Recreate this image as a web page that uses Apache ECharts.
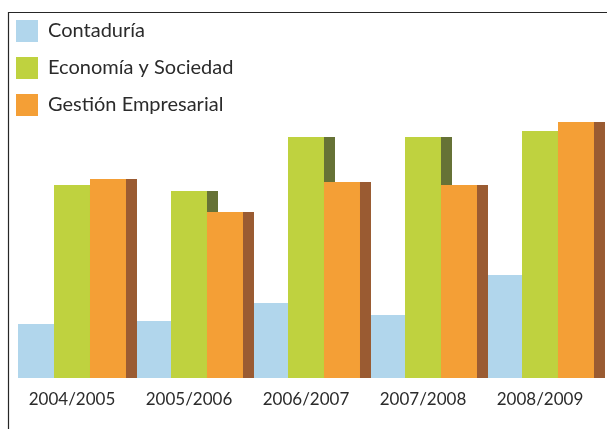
<!DOCTYPE html>
<html>
<head>
<meta charset="utf-8">
<script src="https://cdn.jsdelivr.net/npm/echarts@6/dist/echarts.min.js"></script>
<style>
  html, body { margin: 0; padding: 0; background: #ffffff; }
  #chart { width: 607px; height: 429px; }
</style>
</head>
<body>
<div id="chart"></div>
<script>
// Academic years on the category axis
const years = ['2004/2005', '2005/2006', '2006/2007', '2007/2008', '2008/2009'];

// Series names
const seriesNames = ['Contaduría', 'Economía y Sociedad', 'Gestión Empresarial'];

// Values per programme and year
const contaduria = [54, 57, 75, 63, 103];
const economia = [193, 187, 241, 241, 247];
const gestion = [199, 166, 196, 193, 256];

const faces = ['#b1d6ec', '#bfd23f', '#f49f36'];
const sides = ['#5d86a0', '#667236', '#9a5b32'];

const chart = echarts.init(document.getElementById('chart'), null, { renderer: 'canvas' });

// Each bar casts a flat, offset shadow on its right that reads as a side face
function barSeries(name, data, i) {
  return {
    name: name,
    type: 'bar',
    data: data,
    barGap: '0%',
    barCategoryGap: '7.7%',
    itemStyle: {
      color: faces[i],
      shadowColor: sides[i],
      shadowBlur: 0,
      shadowOffsetX: 11,
      shadowOffsetY: 0
    },
    emphasis: { disabled: true },
    animation: false
  };
}

chart.setOption({
  animation: false,
  graphic: [{
    type: 'rect',
    shape: { x: 8.5, y: 12.5, width: 640, height: 440 },
    style: { fill: 'none', stroke: '#262626', lineWidth: 1.2 },
    silent: true,
    z: 100
  }],
  legend: {
    orient: 'vertical',
    left: 16,
    top: 20,
    padding: 0,
    itemWidth: 22,
    itemHeight: 22,
    itemGap: 15,
    icon: 'rect',
    selectedMode: false,
    itemStyle: { shadowColor: 'rgba(0,0,0,0)', shadowBlur: 0, shadowOffsetX: 0 },
    textStyle: {
      fontFamily: 'Lato, "Open Sans", sans-serif',
      fontSize: 20,
      color: '#2b2b2b',
      padding: [0, 0, 0, 5]
    },
    data: seriesNames
  },
  grid: { left: 13.5, width: 585, bottom: 51, height: 260 },
  xAxis: {
    type: 'category',
    data: years,
    axisLine: { show: false },
    axisTick: { show: false },
    axisLabel: {
      interval: 0,
      margin: 13,
      fontFamily: 'Lato, sans-serif',
      fontSize: 17,
      color: '#2b2b2b'
    }
  },
  yAxis: {
    type: 'value',
    min: 0,
    max: 260,
    show: false,
    splitLine: { show: false }
  },
  series: [
    barSeries(seriesNames[0], contaduria, 0),
    barSeries(seriesNames[1], economia, 1),
    barSeries(seriesNames[2], gestion, 2)
  ]
});
</script>
</body>
</html>
